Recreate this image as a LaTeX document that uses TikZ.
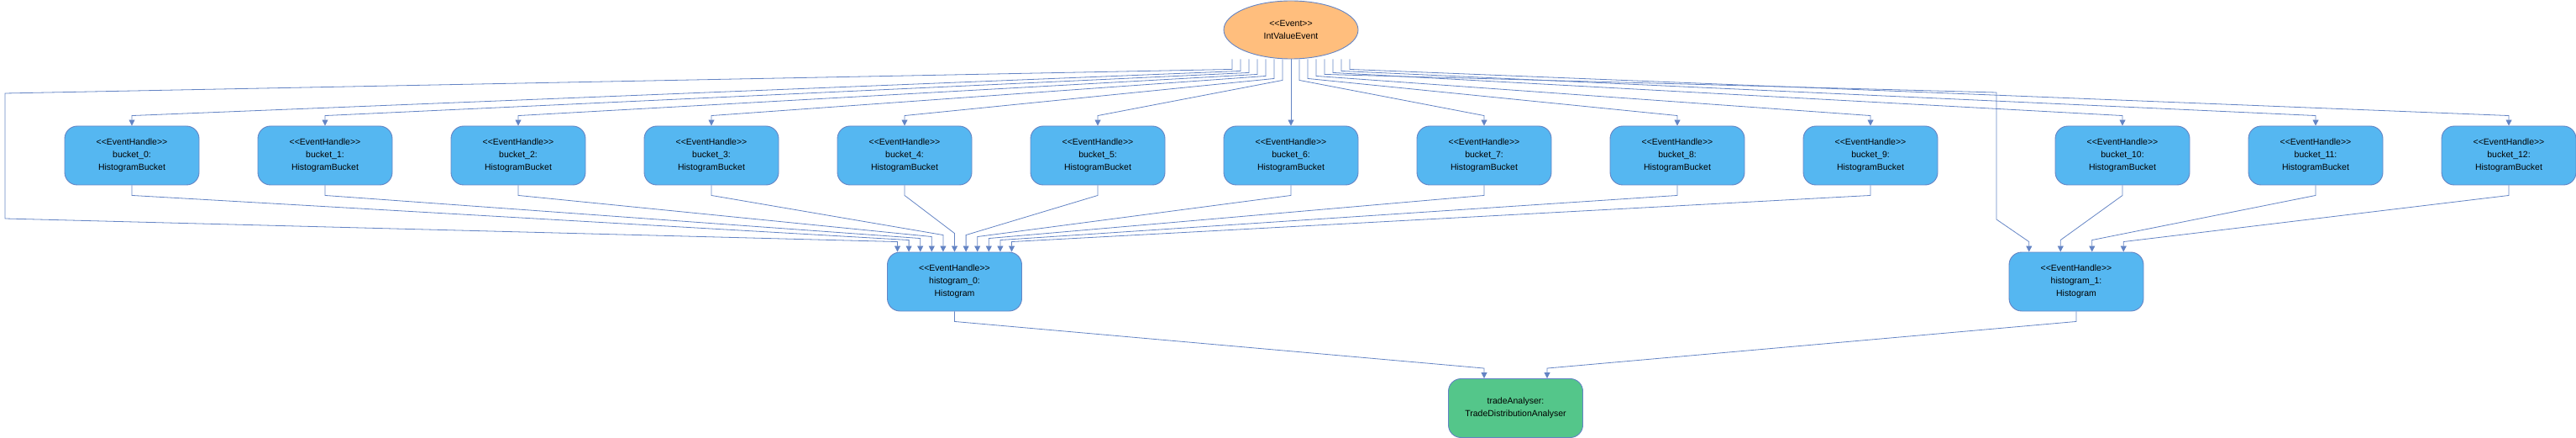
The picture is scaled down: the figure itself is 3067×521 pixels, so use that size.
\documentclass[tikz,border=0pt]{standalone}
\usepackage{fontspec}
\setmainfont{Liberation Sans}
\usetikzlibrary{arrows.meta,positioning,shapes.geometric}
\definecolor{linkblue}{RGB}{100,132,196}
\definecolor{handlerfill}{RGB}{85,183,241}
\definecolor{eventfill}{RGB}{255,190,125}
\definecolor{sinkfill}{RGB}{84,198,138}
\newcommand{\lblfont}{\fontsize{10.5}{15}\selectfont}
\newcommand{\stereo}[1]{<\kern0pt<#1>\kern0pt>}
\tikzset{
  handler/.style={draw=linkblue, fill=handlerfill, rounded corners=15pt, line width=0.9pt,
                  minimum width=160pt, minimum height=70pt, inner sep=0pt, align=center, font=\lblfont},
  sink/.style={handler, fill=sinkfill},
  event/.style={ellipse, draw=linkblue, fill=eventfill, line width=0.9pt,
                minimum width=160pt, minimum height=69pt, inner sep=0pt, align=center, font=\lblfont},
  flow/.style={draw=linkblue, line width=0.8pt, -{Triangle[width=7pt,length=7pt]}}
}
\begin{document}
\begin{tikzpicture}[x=1pt,y=-1pt]
  \useasboundingbox (0,0) rectangle (3067,521);
  \node[event] (ev) at (1537,35.5) {\stereo{Event}\\IntValueEvent};
  \foreach \i/\x in {0/157,1/387,2/617,3/847,4/1077,5/1307,6/1537,7/1767,8/1997,9/2227,
                     10/2527,11/2757,12/2987}
    \node[handler] (b\i) at (\x,185) {\stereo{EventHandle}\\bucket\_\i:\\HistogramBucket};
  \node[handler] (h0) at (1136.5,335) {\stereo{EventHandle}\\histogram\_0:\\Histogram};
  \node[handler] (h1) at (2472,335) {\stereo{EventHandle}\\histogram\_1:\\Histogram};
  \node[sink] (ta) at (1804.5,485.5) {tradeAnalyser:\\TradeDistributionAnalyser};

  \foreach \i/\dx/\drop in {0/-60/14,1/-50/16,2/-40/18,3/-30/20,4/-20/23,5/-10/25,6/0/25,
                            7/10/25,8/20/23,9/30/20,10/50/16,11/60/14,12/70/12}
    \draw[flow] ([xshift=\dx pt]ev.south) -- ++(0,\drop) -- ([yshift=12pt]b\i.north) -- (b\i.north);
  \draw[flow] ([xshift=-70pt]ev.south) -- ++(0,12) -- (6,111) -- (6,260)
    -- ([xshift=-68pt,yshift=12pt]h0.north) -- ([xshift=-68pt]h0.north);
  \draw[flow] ([xshift=40pt]ev.south) -- ++(0,18) -- (2377,110) -- (2377,261)
    -- ([xshift=-56.25pt,yshift=12pt]h1.north) -- ([xshift=-56.25pt]h1.north);

  \foreach \i/\rise [evaluate=\i as \o using (\i-4)*13.6] in {0/14,1/16,2/18,3/20,4/22,5/20,6/18,7/16,8/14,9/12}
    \draw[flow] (b\i.south) -- ++(0,12) -- ([xshift=\o pt,yshift=\rise pt]h0.north) -- ([xshift=\o pt]h0.north);
  \foreach \i/\o/\rise in {10/-18.75/14,11/18.75/14,12/56.25/12}
    \draw[flow] (b\i.south) -- ++(0,12) -- ([xshift=\o pt,yshift=\rise pt]h1.north) -- ([xshift=\o pt]h1.north);

  \draw[flow] (h0.south) -- ++(0,12) -- ([xshift=-37.5pt,yshift=12pt]ta.north) -- ([xshift=-37.5pt]ta.north);
  \draw[flow] (h1.south) -- ++(0,12) -- ([xshift=37.5pt,yshift=12pt]ta.north) -- ([xshift=37.5pt]ta.north);
\end{tikzpicture}
\end{document}
